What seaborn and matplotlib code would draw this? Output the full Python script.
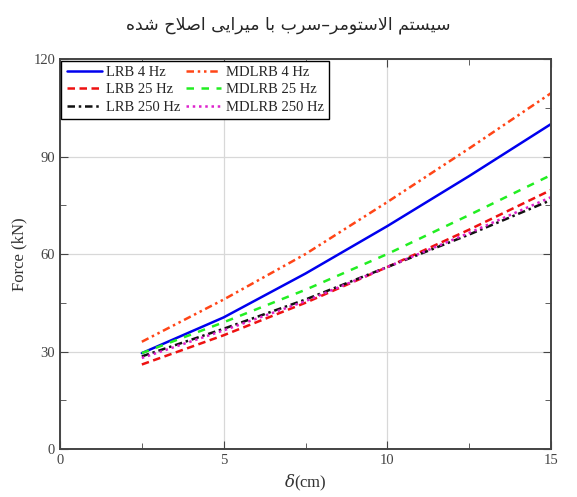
import numpy as np
import pandas as pd
import matplotlib
matplotlib.use('Agg')
import matplotlib.pyplot as plt
import seaborn as sns
from matplotlib.ticker import MultipleLocator

# -------------------------------
# Data
# -------------------------------
delta = [2.5, 5, 7.5, 10, 12.5, 15]
lrb_4 = [29.5, 40.5, 54.0, 68.6, 84.0, 100.0]
lrb_25 = [26.0, 35.0, 45.0, 56.0, 67.5, 79.7]
lrb_250 = [28.5, 37.0, 46.0, 56.0, 66.0, 76.6]
mdlrb_4 = [33.0, 46.0, 60.0, 76.0, 92.5, 109.5]
mdlrb_25 = [29.5, 39.0, 49.0, 60.0, 72.0, 84.3]
mdlrb_250 = [28.0, 36.5, 45.5, 56.0, 66.5, 77.5]

labels = ["LRB 4 Hz", "LRB 25 Hz", "LRB 250 Hz", "MDLRB 4 Hz", "MDLRB 25 Hz", "MDLRB 250 Hz"]
series = [lrb_4, lrb_25, lrb_250, mdlrb_4, mdlrb_25, mdlrb_250]
colors = ["#0000ee", "#ee1111", "#111111", "#ff4517", "#22ee22", "#dd22cc"]
dashes = ["-", (0, (3, 1.8)), (0, (3, 1.5, 1, 1.5)),
          (0, (3, 1.5, 1, 1.5, 1, 1.5)), (0, (3, 3)), (0, (1, 1.5))]

title_text = "سیستم الاستومر–سرب با میرایی اصلاح شده"

# -------------------------------
# Minimal Arabic/Persian shaping (matplotlib does no shaping)
# -------------------------------
forms = {
    'ا': ('\uFE8D', '\uFE8E', None, None),
    'ب': ('\uFE8F', '\uFE90', '\uFE91', '\uFE92'),
    'ت': ('\uFE95', '\uFE96', '\uFE97', '\uFE98'),
    'ح': ('\uFEA1', '\uFEA2', '\uFEA3', '\uFEA4'),
    'د': ('\uFEA9', '\uFEAA', None, None),
    'ر': ('\uFEAD', '\uFEAE', None, None),
    'س': ('\uFEB1', '\uFEB2', '\uFEB3', '\uFEB4'),
    'ش': ('\uFEB5', '\uFEB6', '\uFEB7', '\uFEB8'),
    'ص': ('\uFEB9', '\uFEBA', '\uFEBB', '\uFEBC'),
    'ل': ('\uFEDD', '\uFEDE', '\uFEDF', '\uFEE0'),
    'م': ('\uFEE1', '\uFEE2', '\uFEE3', '\uFEE4'),
    'ه': ('\uFEE9', '\uFEEA', '\uFEEB', '\uFEEC'),
    'و': ('\uFEED', '\uFEEE', None, None),
    'ی': ('\uFBFC', '\uFBFD', '\uFBFE', '\uFBFF'),
}


def shape_word(word):
    # lam-alef ligature first
    chars = []
    i = 0
    while i < len(word):
        if word[i] == 'ل' and i + 1 < len(word) and word[i + 1] == 'ا':
            chars.append('LA')
            i += 2
        else:
            chars.append(word[i])
            i += 1
    out = []
    for k, c in enumerate(chars):
        prev = chars[k - 1] if k > 0 else None
        nxt = chars[k + 1] if k + 1 < len(chars) else None
        prev_joins = prev is not None and prev in forms and forms[prev][2] is not None
        if c == 'LA':
            out.append('\uFEFC' if prev_joins else '\uFEFB')
            continue
        if c not in forms:
            out.append(c)
            continue
        iso, fin, ini, med = forms[c]
        next_ok = nxt is not None and (nxt in forms or nxt == 'LA')
        can_fwd = ini is not None and next_ok
        if prev_joins and can_fwd:
            out.append(med)
        elif prev_joins:
            out.append(fin)
        elif can_fwd:
            out.append(ini)
        else:
            out.append(iso)
    return ''.join(out)


def shape_rtl(text):
    parts = text.replace('–', ' – ').split(' ')
    shaped = [shape_word(p)[::-1] for p in parts]
    res = ' '.join(shaped[::-1])
    return res.replace(' – ', '–')


# -------------------------------
# Plot
# -------------------------------
sns.set_style("ticks")
plt.rcParams['font.family'] = ['Liberation Serif', 'DejaVu Serif']
plt.rcParams['mathtext.fontset'] = 'dejavuserif'

fig = plt.figure(figsize=(5.77, 4.97), dpi=100)
ax = fig.add_axes([0.104, 0.0966, 0.851, 0.7846])

for lab, ys, col, ls in zip(labels, series, colors, dashes):
    df = pd.DataFrame({"x": delta, "y": ys})
    sns.lineplot(data=df, x="x", y="y", ax=ax, color=col, label=lab, linewidth=1.8)
    ax.lines[-1].set_linestyle(ls)

ax.set_xlim(0, 15)
ax.set_ylim(0, 120)
ax.xaxis.set_major_locator(MultipleLocator(5))
ax.xaxis.set_minor_locator(MultipleLocator(2.5))
ax.yaxis.set_major_locator(MultipleLocator(30))
ax.yaxis.set_minor_locator(MultipleLocator(15))
ax.grid(True, which='major', color='#d8d8d8', linewidth=0.9)
ax.tick_params(which='both', direction='in', top=True, right=True, colors='#444444',
               labelsize=10.5, labelcolor='#444444')
ax.tick_params(which='major', length=6)
ax.tick_params(which='minor', length=4)
for sp in ax.spines.values():
    sp.set_color('#444444')
    sp.set_linewidth(1.4)

ax.set_xlabel(r"$\delta$(cm)", fontsize=12, color='#333333', labelpad=4)
ax.set_ylabel("Force (kN)", fontsize=12, color='#333333')

leg = ax.legend(loc='upper left', ncol=2, fontsize=10.5, frameon=True, fancybox=False,
                borderaxespad=0.1, handlelength=2.4, columnspacing=0.4, handletextpad=0.3,
                labelspacing=0.3, borderpad=0.35)
leg.get_frame().set_edgecolor('black')
leg.get_frame().set_linewidth(1.0)
leg.get_frame().set_alpha(1)

fig.text(0.5, 0.95, shape_rtl(title_text), ha='center', va='center', fontsize=12.5,
         family=['DejaVu Sans'])

plt.savefig("out.png", dpi=100)
plt.close()
